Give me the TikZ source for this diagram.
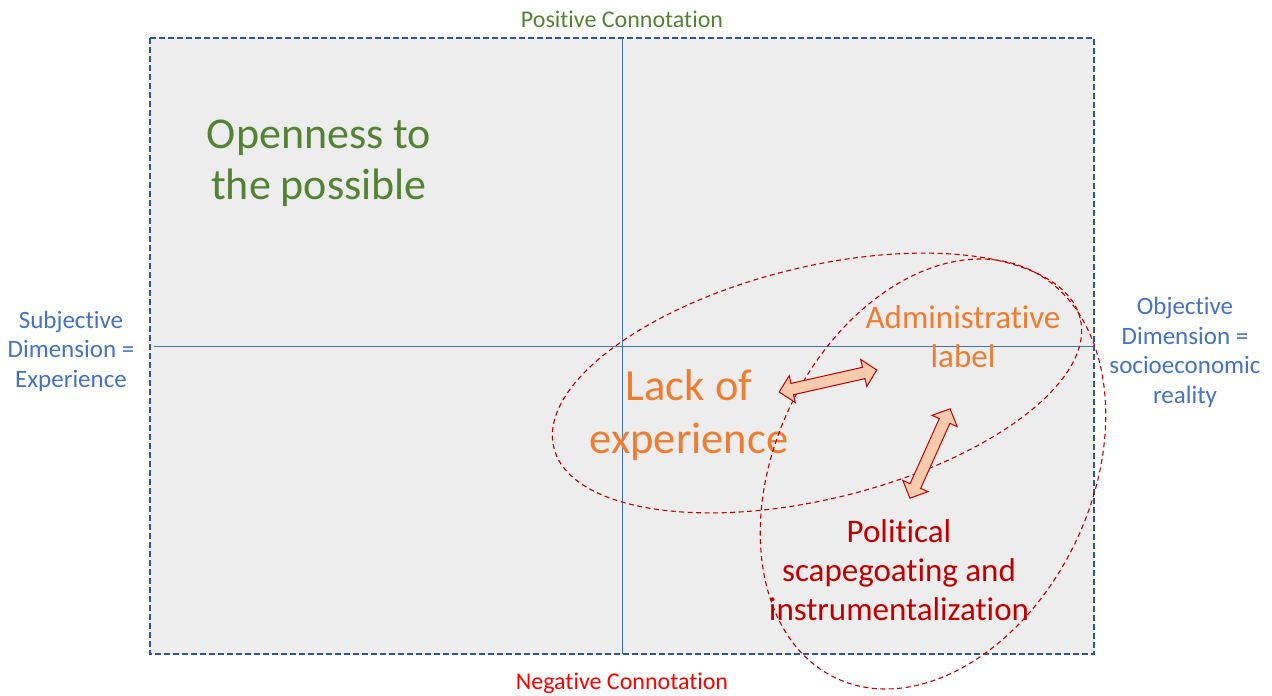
\documentclass[tikz,border=0pt]{standalone}
\usepackage{fontspec}
\setmainfont{Carlito}[Ligatures=NoCommon]
\usetikzlibrary{shapes.arrows}

\definecolor{boxblue}{HTML}{2F5597}
\definecolor{axisblue}{HTML}{4472C4}
\definecolor{boxgray}{HTML}{EDEDED}
\definecolor{posgreen}{HTML}{548235}
\definecolor{midorange}{HTML}{ED7D31}
\definecolor{darkred}{HTML}{C00000}
\definecolor{negred}{HTML}{FF0000}
\definecolor{peach}{HTML}{F8CBAD}

\newcommand{\fsz}[2]{\fontsize{#1}{#2}\selectfont}

\begin{document}
\begin{tikzpicture}[x=1pt,y=-1pt,
    axis/.style={axisblue, line width=1pt},
    ring/.style={darkred, dash pattern=on 5pt off 3.5pt, line width=1.1pt},
    txt/.style={inner sep=0pt, align=center},
    link/.style={double arrow, draw=darkred, fill=peach, line width=1pt,
      inner xsep=0pt, inner ysep=5.3pt, double arrow head extend=8pt,
      double arrow tip angle=92, minimum height=#1}]

      \useasboundingbox (0,0) rectangle (1272,696);

      % the field
      \draw[boxblue, line width=1.2pt, dash pattern=on 6pt off 3pt, fill=boxgray] (150,38) rectangle (1094,654);
      \draw[axis] (622,38) -- (622,654);
      \draw[axis] (154,346) -- (1094,346);

      % axis labels
      \node[txt, text=posgreen, font=\fsz{24}{28}] (pos) at (622,19) {Positive Connotation};
      \node[txt, text=negred, font=\fsz{24}{28}] (neg) at (622,683) {Negative Connotation};
      \node[txt, text=axisblue, font=\fsz{25}{29.5}] (subj) at (71,351) {Subjective\\Dimension =\\Experience};
      \node[txt, text=axisblue, font=\fsz{25}{29.5}] (obj) at (1185,352.5) {Objective\\Dimension =\\socioeconomic\\reality};

      % quadrant texts
      \node[txt, text=posgreen, font=\fsz{44}{51}] (open) at (319,163) {Openness to\\the possible};
      \node[txt, text=midorange, font=\fsz{44.5}{53}] (lack) at (689,415) {Lack of\\experience};
      \node[txt, text=midorange, font=\fsz{33}{39}] (admin) at (963,337) {Administrative\\label};
      \node[txt, text=darkred, font=\fsz{33}{39}] (polit) at (899,570) {Political\\scapegoating and\\instrumentalization};

      % zones
      \draw[ring, shift={(817,383)}, rotate=13.8] (0,0) ellipse[x radius=271pt, y radius=116pt];
      \draw[ring, shift={(933,474)}, rotate=64.4] (0,0) ellipse[x radius=226pt, y radius=158pt];

      % links
      \node[link=100pt, rotate=12.7] (lackadmin) at (828,381) {};
      \node[link=98pt, rotate=65.8] (adminpolit) at (930,453.5) {};

    \end{tikzpicture}
\end{document}
